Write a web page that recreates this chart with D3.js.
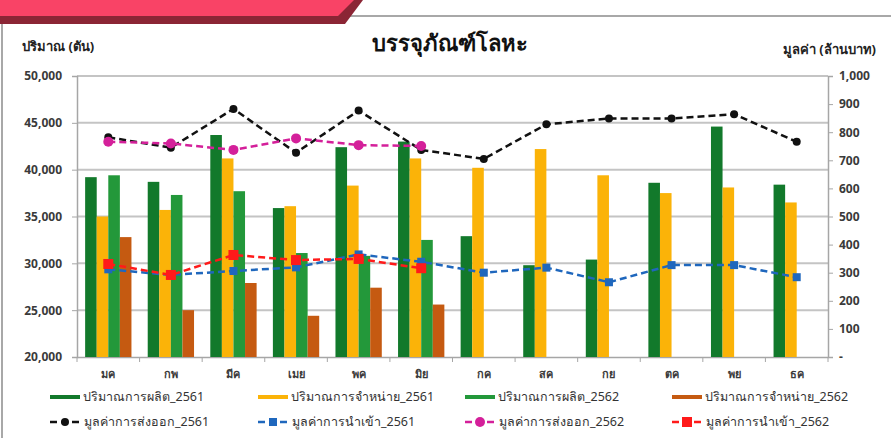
<!DOCTYPE html>
<html>
<head>
<meta charset="utf-8">
<script src="https://cdn.jsdelivr.net/npm/d3@7"></script>
<style>
  body { margin: 0; background: #fff; }
  text { font-family: "Noto Sans", "Liberation Sans", sans-serif; }
</style>
</head>
<body>
<div id="chart"></div>
<script>
// data
const months = ["มค", "กพ", "มีค", "เมย", "พค", "มิย", "กค", "สค", "กย", "ตค", "พย", "ธค"];
const prod2561 = [39200, 38700, 43700, 35900, 42400, 43000, 32900, 29800, 30400, 38600, 44600, 38400];
const sale2561 = [35000, 35700, 41200, 36100, 38300, 41200, 40200, 42200, 39400, 37500, 38100, 36500];
const prod2562 = [39400, 37300, 37700, 31100, 30800, 32500, null, null, null, null, null, null];
const sale2562 = [32800, 25000, 27900, 24400, 27400, 25600, null, null, null, null, null, null];
const export2561 = [782, 745, 883, 727, 877, 737, 705, 828, 849, 849, 864, 766];
const import2561 = [312, 292, 306, 319, 365, 339, 300, 318, 266, 327, 327, 284];
const export2562 = [766, 760, 737, 778, 754, 751, null, null, null, null, null, null];
const import2562 = [331, 292, 363, 345, 349, 316, null, null, null, null, null, null];
const leftTicks = [20000, 25000, 30000, 35000, 40000, 45000, 50000];
const rightTicks = [0, 100, 200, 300, 400, 500, 600, 700, 800, 900, 1000];

const W = 891, H = 438;
const margin = {top: 76, right: 63, bottom: 81, left: 77},
  width = W - margin.left - margin.right,
  height = H - margin.top - margin.bottom;

const svgRoot = d3.select("#chart")
  .append("svg")
  .attr("width", W)
  .attr("height", H);

// header banner and frame
svgRoot.append("rect").attr("x", 2).attr("y", 16).attr("width", W + 10).attr("height", H)
  .attr("fill", "#fff").attr("stroke", "#8c8c8c").attr("stroke-width", 1.5);
svgRoot.append("path").attr("d", "M0,0 L363,0 L345,24 L0,24 Z").attr("fill", "#8b2535");
svgRoot.append("path").attr("d", "M0,0 L354,0 L338,16 L0,16 Z").attr("fill", "#f94366");

const svg = svgRoot.append("g")
  .attr("transform", `translate(${margin.left}, ${margin.top})`);

const bars = [
  {name: "ปริมาณการผลิต_2561", values: prod2561, color: "#12792b"},
  {name: "ปริมาณการจำหน่าย_2561", values: sale2561, color: "#fbb308"},
  {name: "ปริมาณการผลิต_2562", values: prod2562, color: "#23983a"},
  {name: "ปริมาณการจำหน่าย_2562", values: sale2562, color: "#c55a11"}
];
const lines = [
  {name: "มูลค่าการส่งออก_2561", values: export2561, color: "#111111", shape: "circle", r: 4},
  {name: "มูลค่าการนำเข้า_2561", values: import2561, color: "#1f67bd", shape: "square", r: 4},
  {name: "มูลค่าการส่งออก_2562", values: export2562, color: "#d4209a", shape: "circle", r: 5},
  {name: "มูลค่าการนำเข้า_2562", values: import2562, color: "#ff1a1a", shape: "square", r: 5}
];

// scales
const x = d3.scaleBand().domain(months).range([0, width]);
const x1 = d3.scaleBand().domain(d3.range(4))
  .range([x.bandwidth() * 0.13, x.bandwidth() * 0.87]);
const yL = d3.scaleLinear().domain([20000, 50000]).range([height, 0]);
const yR = d3.scaleLinear().domain([0, 1000]).range([height, 0]);

// gridlines
svg.append("g")
  .selectAll("line")
  .data(leftTicks.slice(1))
  .join("line")
  .attr("x1", 0).attr("x2", width)
  .attr("y1", d => yL(d)).attr("y2", d => yL(d))
  .attr("stroke", "#c4c4c4").attr("stroke-width", 2);

// axes
const axL = svg.append("g")
  .call(d3.axisLeft(yL).tickValues(leftTicks).tickFormat(d3.format(",")).tickSize(5).tickPadding(10));
const axR = svg.append("g")
  .attr("transform", `translate(${width}, 0)`)
  .call(d3.axisRight(yR).tickValues(rightTicks)
    .tickFormat(d => d === 0 ? "-" : d3.format(",")(d)).tickSize(5).tickPadding(6));
const axB = svg.append("g")
  .attr("transform", `translate(0, ${height})`)
  .call(d3.axisBottom(x).tickSize(0).tickPadding(13));
axB.selectAll(".tick line").remove();
axB.append("g")
  .selectAll("line")
  .data(d3.range(13))
  .join("line")
  .attr("x1", d => d * x.step()).attr("x2", d => d * x.step())
  .attr("y1", 0).attr("y2", 5)
  .attr("stroke", "#a6a6a6");

[axL, axR, axB].forEach(a => {
  a.select(".domain").attr("stroke", "#a6a6a6").attr("stroke-width", 1.5);
  a.selectAll(".tick line").attr("stroke", "#a6a6a6");
  a.selectAll("text").attr("fill", "#3a3a3a").style("font-size", "12px").style("font-weight", "bold");
});
axB.selectAll("text").style("font-size", "11px");
axR.selectAll("text").attr("dy", "0.32em");

// bars
bars.forEach((s, k) => {
  svg.append("g")
    .selectAll("rect")
    .data(s.values.map((v, i) => ({m: months[i], v: v})).filter(d => d.v != null))
    .join("rect")
    .attr("x", d => x(d.m) + x1(k))
    .attr("width", x1.bandwidth())
    .attr("y", d => yL(d.v))
    .attr("height", d => height - yL(d.v))
    .attr("fill", s.color);
});

// lines
lines.forEach(s => {
  const pts = s.values.map((v, i) => ({m: months[i], v: v})).filter(d => d.v != null);
  svg.append("path")
    .datum(pts)
    .attr("fill", "none")
    .attr("stroke", s.color)
    .attr("stroke-width", 2.5)
    .attr("stroke-dasharray", "7,4")
    .attr("d", d3.line().x(d => x(d.m) + x.bandwidth() / 2).y(d => yR(d.v)));
  const g = svg.append("g").attr("fill", s.color);
  if (s.shape === "circle") {
    g.selectAll("circle").data(pts).join("circle")
      .attr("cx", d => x(d.m) + x.bandwidth() / 2).attr("cy", d => yR(d.v)).attr("r", s.r);
  } else {
    g.selectAll("rect").data(pts).join("rect")
      .attr("x", d => x(d.m) + x.bandwidth() / 2 - s.r).attr("y", d => yR(d.v) - s.r)
      .attr("width", s.r * 2).attr("height", s.r * 2);
  }
});

// titles
svgRoot.append("text").attr("x", 450).attr("y", 51).attr("text-anchor", "middle")
  .style("font-size", "22px").style("font-weight", "bold").attr("fill", "#111")
  .text("บรรจุภัณฑ์โลหะ");
svgRoot.append("text").attr("x", 22).attr("y", 51)
  .style("font-size", "13px").style("font-weight", "bold").attr("fill", "#222")
  .text("ปริมาณ (ตัน)");
svgRoot.append("text").attr("x", 876).attr("y", 54).attr("text-anchor", "end")
  .style("font-size", "13px").style("font-weight", "bold").attr("fill", "#222")
  .text("มูลค่า (ล้านบาท)");

// legend
const colX = [50, 258, 465, 672];
const legend = svgRoot.append("g");
bars.forEach((s, k) => {
  const g = legend.append("g").attr("transform", `translate(${colX[k]}, 397)`);
  g.append("line").attr("x1", 0).attr("x2", 30).attr("stroke", s.color).attr("stroke-width", 4);
  g.append("text").attr("x", 33).attr("dy", "0.35em")
    .style("font-size", "12.5px").attr("fill", "#333").text(s.name);
});
lines.forEach((s, k) => {
  const g = legend.append("g").attr("transform", `translate(${colX[k]}, 422)`);
  g.append("line").attr("x1", 0).attr("x2", 30).attr("stroke", s.color).attr("stroke-width", 2.5)
    .attr("stroke-dasharray", "7,4");
  if (s.shape === "circle") {
    g.append("circle").attr("cx", 15).attr("r", s.r).attr("fill", s.color);
  } else {
    g.append("rect").attr("x", 15 - s.r).attr("y", -s.r).attr("width", s.r * 2).attr("height", s.r * 2)
      .attr("fill", s.color);
  }
  g.append("text").attr("x", 34).attr("dy", "0.35em")
    .style("font-size", "12.5px").attr("fill", "#333").text(s.name);
});
</script>
</body>
</html>
